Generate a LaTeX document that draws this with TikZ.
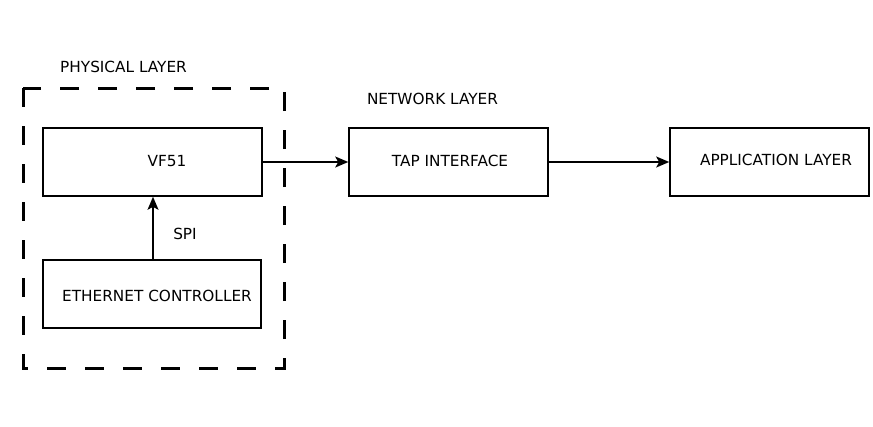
\documentclass[tikz,border=0pt]{standalone}
\usepackage{fontspec}
\setmainfont{DejaVu Sans}
\usetikzlibrary{arrows.meta}
\begin{document}
\begin{tikzpicture}[x=1pt,y=-1pt,
  blk/.style={draw,line width=1.6pt,inner sep=0pt},
  lbl/.style={font=\fontsize{15.3}{18}\selectfont,inner sep=0pt},
  conn/.style={line width=1.6pt,-{Stealth[length=13pt,width=11pt,inset=3pt]}}]
\useasboundingbox[fill=white] (0,0) rectangle (873,426);
\draw[line width=3pt,dash pattern=on 19pt off 19pt] (23,88) rectangle (284,368);
\node[blk,minimum width=219pt,minimum height=68pt] (vf) at (152.5,162) {};
\node[lbl] (vft) at (167,161) {VF51};
\node[blk,minimum width=218pt,minimum height=68pt] (eth) at (152,294) {};
\node[lbl] (etht) at (157,296) {ETHERNET CONTROLLER};
\node[blk,minimum width=199pt,minimum height=68pt] (tap) at (448.5,162) {};
\node[lbl] (tapt) at (450,161) {TAP INTERFACE};
\node[blk,minimum width=199pt,minimum height=68pt] (app) at (769.5,162) {};
\node[lbl] (appt) at (776,160) {APPLICATION LAYER};
\node[lbl] (phys) at (123.5,67) {PHYSICAL LAYER};
\node[lbl] (net) at (432.5,99) {NETWORK LAYER};
\node[lbl] (spi) at (185,234) {SPI};
\draw[conn] (eth.north -| 153,0) -- (153,196.8);
\draw[conn] (vf.east) -- (tap.west);
\draw[conn] (tap.east) -- (app.west);
\end{tikzpicture}
\end{document}
